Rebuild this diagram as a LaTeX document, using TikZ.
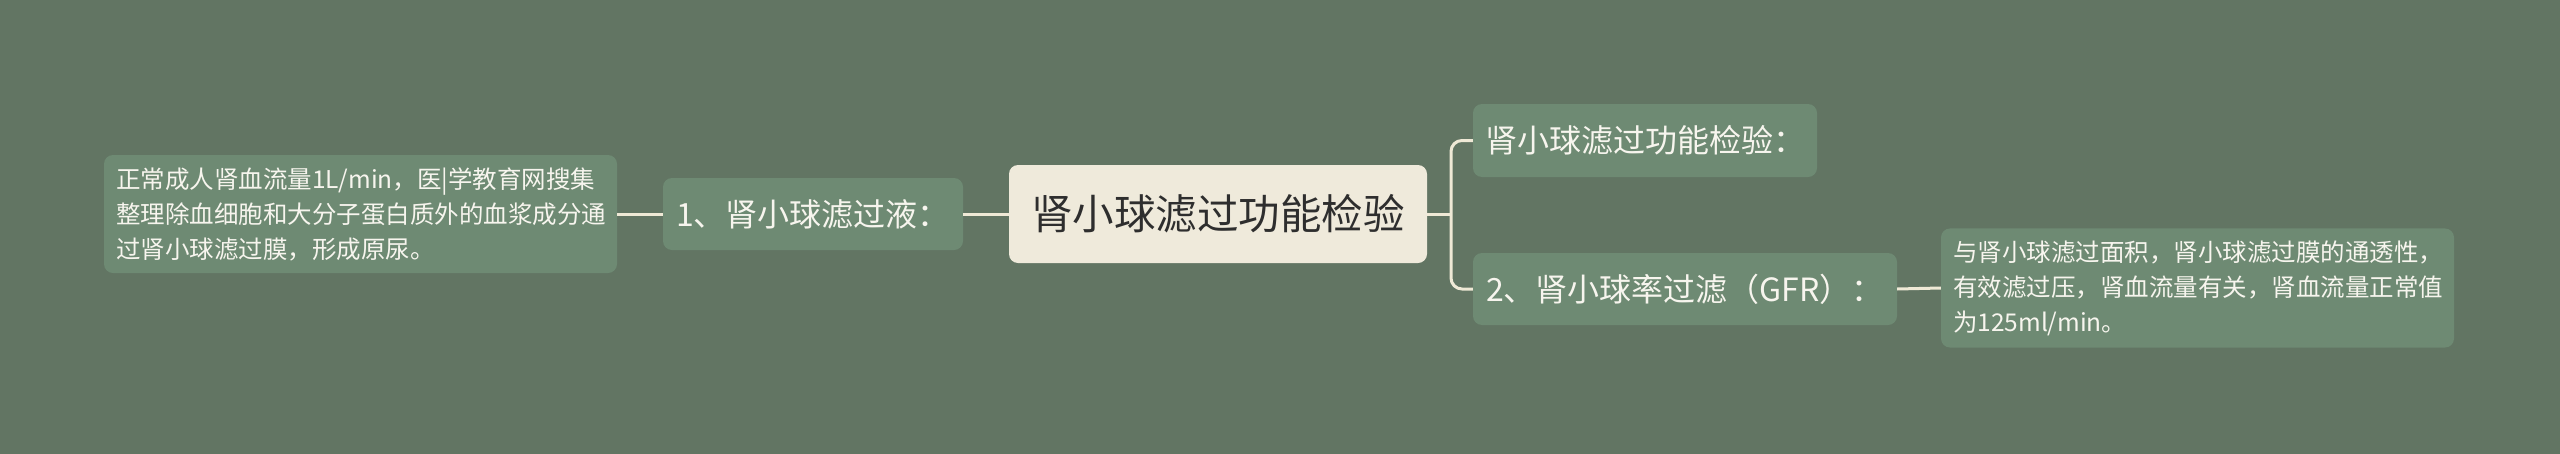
\documentclass[tikz,border=0pt]{standalone}
\usepackage{fontspec}
\newfontfamily\cjk{Noto Sans CJK SC}
\definecolor{mapBg}{HTML}{627563}
\definecolor{leafFill}{HTML}{6E8A73}
\definecolor{rootFill}{HTML}{EFEADB}
\definecolor{edgeColor}{HTML}{EFE9D6}
\definecolor{lightText}{HTML}{F7F5EE}
\definecolor{darkText}{HTML}{2E2E2E}
\tikzset{
  rootBox/.style={rectangle, rounded corners=9pt, fill=rootFill, text=darkText, inner sep=0pt, font=\cjk\fontsize{41.5}{48}\selectfont},
  branchBox/.style={rectangle, rounded corners=9pt, fill=leafFill, text=lightText, inner sep=0pt, font=\cjk\fontsize{32}{38}\selectfont},
  detailBox/.style={rectangle, rounded corners=9pt, fill=leafFill, text=lightText, inner sep=12pt, align=left, text width=489pt, font=\cjk\fontsize{24.5}{35}\selectfont},
  edge/.style={draw=edgeColor, line width=3pt}
}
\begin{document}
\begin{tikzpicture}[x=1pt,y=-1pt]
		\useasboundingbox (0,0) rectangle (2560,453);
		\fill[mapBg] (-2,-2) rectangle (2562,455);

		\node[rootBox, minimum width=418pt, minimum height=98pt](root) at (1218,214){肾小球滤过功能检验};

		\node[branchBox, minimum width=300pt, minimum height=72pt](liquidBox) at (813,214){1、肾小球滤过液：};
		\node[detailBox, minimum height=118pt](liquidNote) at (360.5,214){正常成人肾血流量1L/min，医|学教育网搜集\\整理除血细胞和大分子蛋白质外的血浆成分通\\过肾小球滤过膜，形成原尿。};

		\node[branchBox, minimum width=344pt, minimum height=73pt](checkBox) at (1645,140.5){肾小球滤过功能检验：};
		\node[branchBox, minimum width=424pt, minimum height=72pt](rateBox) at (1685,289){2、肾小球率过滤（GFR）：};
		\node[detailBox, minimum height=116pt](rateNote) at (2197.5,288){与肾小球滤过面积，肾小球滤过膜的通透性，\\有效滤过压，肾血流量有关，肾血流量正常值\\为125ml/min。};

		\coordinate (fork) at (1451,214);

		% draw left edges
		\draw[edge] (root.west) -- (liquidBox.east);
		\draw[edge] (liquidBox.west) -- (liquidNote.east);

		% draw right edges
		\draw[edge] (root.east) -- (fork);
		\draw[edge, rounded corners=11pt] (checkBox.west) -| (fork) |- (rateBox.west);
		\draw[edge] (rateBox.east) -- (rateNote.west);

	\end{tikzpicture}
\end{document}
